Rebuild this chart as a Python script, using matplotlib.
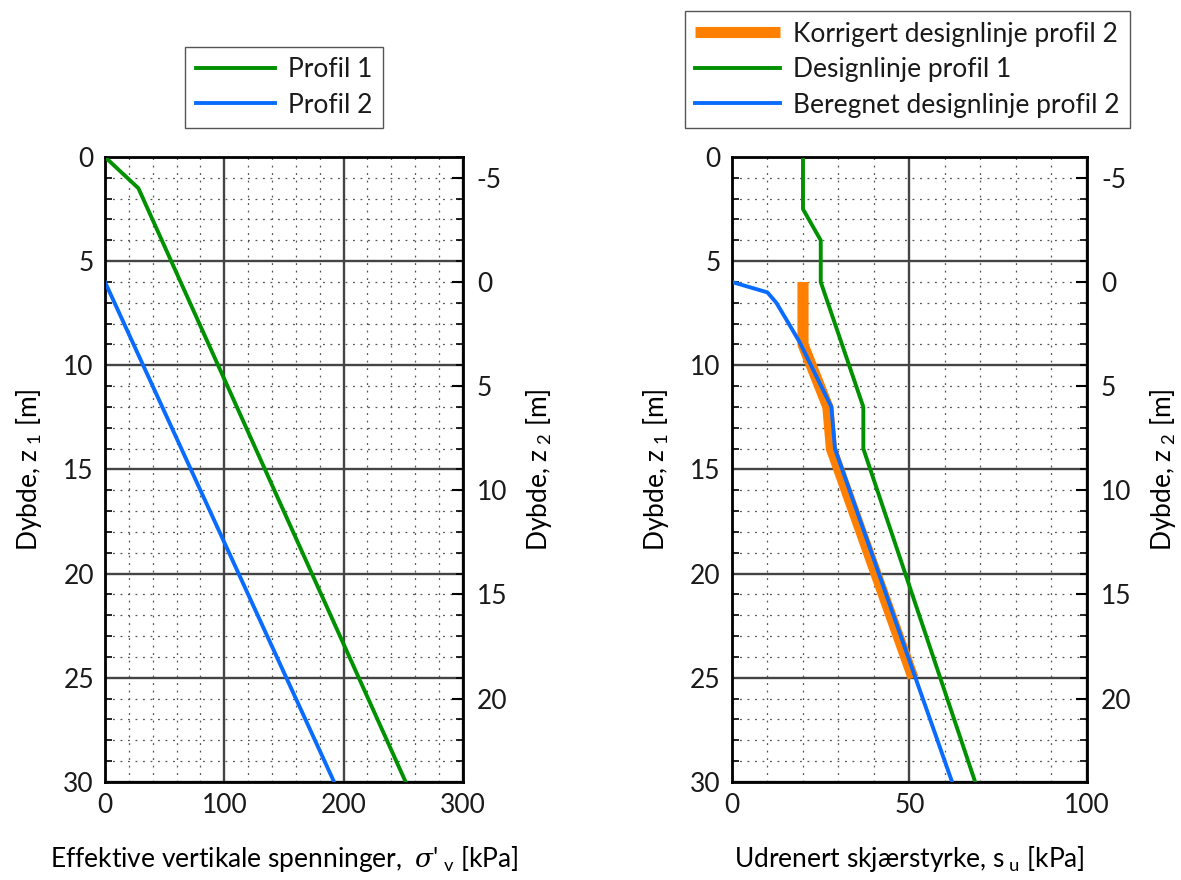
import matplotlib
matplotlib.use("Agg")
import matplotlib.pyplot as plt
from matplotlib.ticker import MultipleLocator

plt.rcParams['font.family'] = ['Lato', 'DejaVu Sans']
plt.rcParams['mathtext.fontset'] = 'custom'
plt.rcParams['mathtext.rm'] = 'Lato'
plt.rcParams['mathtext.it'] = 'DejaVu Serif:italic'
plt.rcParams['axes.unicode_minus'] = False
plt.rcParams['text.color'] = '#1a1a1a'

# --- Effektive vertikale spenninger (kPa) mot dybde z1 (m) ---
profil1_sigma = [0, 28, 252]
profil1_z = [0, 1.5, 30]
profil2_sigma = [0, 192]
profil2_z = [6, 30]

# --- Udrenert skjaerstyrke su (kPa) mot dybde z1 (m) ---
design1_su = [20, 20, 25, 25, 37, 37, 68.5]
design1_z = [0, 2.5, 4, 6, 12, 14, 30]
beregnet2_su = [0, 10, 12.5, 15.3, 19.1, 28, 29, 62]
beregnet2_z = [6, 6.5, 7.0, 7.8, 8.9, 12, 14, 30]
korrigert2_su = [20, 20, 27, 28, 51]
korrigert2_z = [6, 9, 12, 14, 25]

# avstand mellom z1 og z2
z_offset = 6

GREEN = '#009100'
BLUE = '#0a6cff'
ORANGE = '#ff8000'
FS = 19
LW = 2.8


def sett_opp_akse(ax, xmax, xmajor, xminor):
    ax.set_xlim(0, xmax)
    ax.set_ylim(30, 0)
    ax.xaxis.set_major_locator(MultipleLocator(xmajor))
    ax.xaxis.set_minor_locator(MultipleLocator(xminor))
    ax.yaxis.set_major_locator(MultipleLocator(5))
    ax.yaxis.set_minor_locator(MultipleLocator(1))
    ax.grid(True, which='major', color='#444444', linewidth=1.7, linestyle='-')
    ax.grid(True, which='minor', color='#555555', linewidth=0.9, linestyle=(0, (1.5, 4.5)))
    ax.set_axisbelow(True)
    ax.tick_params(which='both', direction='in', labelsize=FS, colors='black',
                   labelcolor='#1a1a1a', pad=8)
    ax.tick_params(which='major', length=0)
    ax.tick_params(which='minor', axis='y', length=5, width=1.2)
    ax.tick_params(which='minor', axis='x', length=0)
    for s in ax.spines.values():
        s.set_linewidth(2)

    # hoyre akse med z2
    ax2 = ax.twinx()
    ax2.set_ylim(30 - z_offset, 0 - z_offset)
    ax2.yaxis.set_major_locator(MultipleLocator(5))
    ax2.yaxis.set_minor_locator(MultipleLocator(1))
    ax2.tick_params(which='major', direction='in', length=8, width=1.5,
                    labelsize=FS, labelcolor='#1a1a1a', pad=10)
    ax2.tick_params(which='minor', direction='in', length=5, width=1.2)
    ax2.set_ylabel('Dybde, z$_{\\;2}$ [m]', fontsize=FS, labelpad=12)
    ax.set_ylabel('Dybde, z$_{\\;1}$ [m]', fontsize=FS, labelpad=14)
    return ax2


fig = plt.figure(figsize=(11.81, 8.8), dpi=100)
ax1 = fig.add_axes([0.0889, 0.1114, 0.3031, 0.7102])
ax3 = fig.add_axes([0.6198, 0.1114, 0.3006, 0.7102])

# venstre: spenninger
sett_opp_akse(ax1, 300, 100, 20)
ax1.plot(profil1_sigma, profil1_z, color=GREEN, lw=LW, label='Profil 1', zorder=3)
ax1.plot(profil2_sigma, profil2_z, color=BLUE, lw=LW, label='Profil 2', zorder=3)
ax1.set_xlabel("Effektive vertikale spenninger,  $\\sigma$'$_{\\;\\mathrm{v}}$ [kPa]",
               fontsize=FS, labelpad=19)
ax1.legend(loc='lower center', bbox_to_anchor=(0.5, 1.025), fontsize=FS,
           handlelength=3.0, fancybox=False, edgecolor='#555555', framealpha=1,
           borderpad=0.4, labelspacing=0.4, handletextpad=0.5)

# hoyre: skjaerstyrke
sett_opp_akse(ax3, 100, 50, 10)
ax3.plot(korrigert2_su, korrigert2_z, color=ORANGE, lw=8, solid_capstyle='butt',
         label='Korrigert designlinje profil 2', zorder=3)
ax3.plot(design1_su, design1_z, color=GREEN, lw=LW, label='Designlinje profil 1', zorder=4)
ax3.plot(beregnet2_su, beregnet2_z, color=BLUE, lw=LW,
         label='Beregnet designlinje profil 2', zorder=4)
ax3.set_xlabel('Udrenert skjærstyrke, s$_{\\;\\mathrm{u}}$ [kPa]', fontsize=FS, labelpad=19)
ax3.legend(loc='lower center', bbox_to_anchor=(0.494, 1.025), fontsize=FS,
           handlelength=3.2, fancybox=False, edgecolor='#555555', framealpha=1,
           borderpad=0.4, labelspacing=0.4, handletextpad=0.5)

fig.savefig('out.png', dpi=100)
